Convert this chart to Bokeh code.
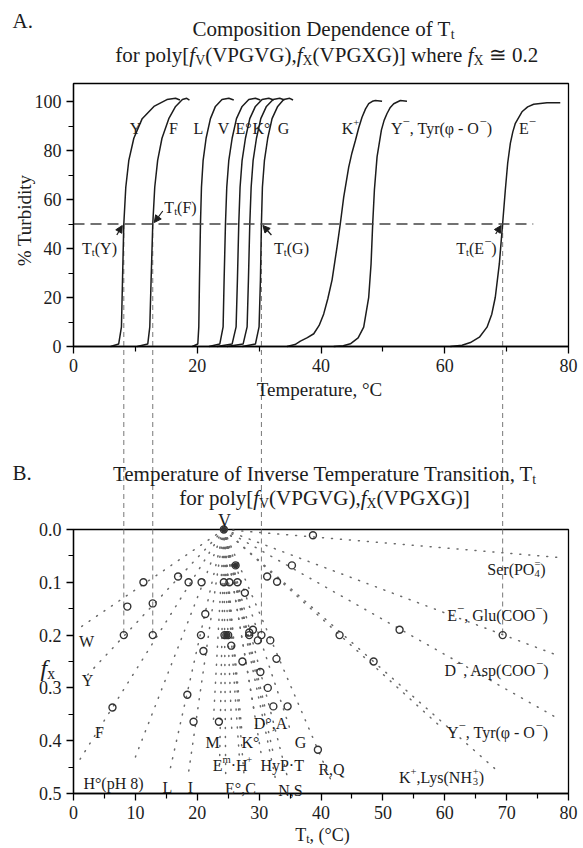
import math
from bokeh.plotting import figure
from bokeh.models import (Range1d, FixedTicker, Label, Arrow, NormalHead, PrintfTickFormatter,
                          LinearAxis)
from bokeh.embed import file_html
from bokeh.resources import INLINE

FONT = "Liberation Serif"
INK = "#1c1c1c"

# ---------------- Panel A data (turbidity profiles) ----------------
turb_steep = [0, 1, 8, 27, 50, 65, 76, 85, 93, 98, 100.8, 101.3, 100.6]
Y_T = [6.0, 7.3, 7.75, 7.92, 8.13, 8.45, 8.94, 9.75, 11.1, 13.0, 15.1, 16.5, 17.2]
F_T = [10.3, 12.0, 12.33, 12.54, 12.81, 13.13, 13.6, 14.3, 15.4, 16.5, 17.6, 18.3, 18.74]
L_T = [19.2, 20.09, 20.25, 20.36, 20.52, 20.68, 20.95, 21.43, 22.13, 22.94, 24.0, 25.1, 25.9]
V_T = [21.9, 23.64, 24.18, 24.34, 24.56, 24.77, 25.1, 25.64, 26.34, 27.25, 28.33, 29.4, 30.2]
E0_T = [23.2, 25.63, 26.28, 26.49, 26.71, 26.92, 27.25, 27.79, 28.49, 29.4, 30.48, 31.56, 32.37]
K0_T = [24.8, 27.41, 28.06, 28.27, 28.49, 28.71, 29.03, 29.57, 30.27, 31.18, 32.26, 33.33, 34.1]
G_T = [27.3, 29.4, 29.99, 30.21, 30.37, 30.53, 30.86, 31.39, 32.09, 33.0, 33.97, 34.94, 35.48]
Kp_T = [34.5, 35.8, 36.67, 37.8, 38.83, 39.7, 40.44, 41.1, 41.79, 42.6, 43.13, 43.67, 44.48,
        45.0, 45.56, 46.1, 46.63, 47.2, 47.71, 48.3, 48.79, 49.87]
Kp_turb = [0, 0.8, 2.2, 3.6, 5.2, 8.6, 13.3, 19.5, 27.2, 40.8, 50.3, 61, 73.2,
           79.0, 84.1, 89.3, 93.6, 97.0, 99.1, 100.1, 100.4, 100.1]
Ym_T = [42.06, 43.6, 44.75, 46.0, 46.9, 47.71, 48.09, 48.36, 48.63, 49.06, 49.76, 50.2,
        50.67, 51.2, 51.75, 52.83, 53.9]
Ym_turb = [0, 0.3, 1.1, 3.5, 7.9, 20.1, 33.7, 50.3, 63.9, 77.4, 88.3, 92.3,
           95.1, 97.6, 99.1, 100.4, 100.1]
Em_T = [60.9, 62.8, 64.14, 65.6, 66.83, 67.6, 68.17, 68.82, 69.36, 69.79, 70.17, 70.6,
        71.0, 71.41, 72.48, 73.4, 74.37, 76.52, 78.67]
Em_turb = [0, 0.5, 1.6, 3.8, 7.9, 13.2, 20.1, 33.7, 50.3, 63.9, 74.8, 82.9,
           87.6, 91.1, 95.8, 97.8, 98.9, 99.5, 99.5]
half_T = [0, 74.3]
half_level = 50
conn_T = [8.13, 12.81, 30.37, 69.36]   # Tt(Y), Tt(F), Tt(G), Tt(E-)

# ---------------- Panel B data ----------------
V_T0 = 24.3
fan_end_T = [0.5, 1.5, 0.8, 9.7, 15.6, 18.6, 22.6, 23.6, 24.6, 25.6, 26.8, 27.6, 27.2,
             29.3, 31.0, 30.4, 32.4, 35.2, 32.6, 34.6, 41.8, 59.0, 68.5, 78.6, 78.6, 78.6]
fan_end_fx = [0.19, 0.285, 0.44, 0.44, 0.455, 0.46, 0.365, 0.45, 0.47, 0.385, 0.43, 0.47, 0.38,
              0.35, 0.34, 0.43, 0.43, 0.385, 0.47, 0.47, 0.48, 0.37, 0.457, 0.36, 0.24, 0.053]
circ_T = [38.7, 35.3, 26.2, 16.9, 18.6, 20.7, 24.3, 25.2, 26.5, 11.3, 31.3, 32.9, 27.7, 8.7,
          12.8, 21.3, 8.13, 12.81, 20.6, 24.4, 24.7, 25.0, 28.4, 29.0, 28.4, 30.37, 29.8, 31.8,
          25.5, 21.0, 27.3, 32.8, 30.2, 31.4, 18.4, 6.3, 19.4, 23.5, 32.3, 34.6, 39.5, 43.0,
          48.5, 52.7, 69.36, 24.3]
circ_fx = [0.011, 0.068, 0.068, 0.089, 0.1, 0.1, 0.1, 0.1, 0.1, 0.1, 0.089, 0.099, 0.12, 0.146,
           0.14, 0.16, 0.2, 0.2, 0.2, 0.2, 0.2, 0.2, 0.195, 0.19, 0.2, 0.2, 0.21, 0.21,
           0.22, 0.23, 0.25, 0.245, 0.27, 0.3, 0.313, 0.337, 0.364, 0.364, 0.335, 0.335, 0.417, 0.2,
           0.25, 0.19, 0.2, 0.0]
dark_T = [24.3, 26.2, 24.7]
dark_fx = [0.0, 0.068, 0.2]

# ---------------- page geometry (page pixels; canvas at page origin) ----------------
W, H = 583, 848
FX0, FX1 = 73, 568                    # x = 0 .. 80 in both panels
A_TOP, A_BOT, A_YMAX = 83, 346, 107.35
B_TOP, B_BOT = 529, 793


def px2x(px):
    return (px - FX0) * 80.0 / (FX1 - FX0)


def x2px(x):
    return FX0 + x * (FX1 - FX0) / 80.0


def py2a(py):
    return (A_BOT - py) * A_YMAX / (A_BOT - A_TOP)


def a2py(y):
    return A_BOT - y * (A_BOT - A_TOP) / A_YMAX


def py2b(py):
    return (py - B_TOP) * 0.5 / (B_BOT - B_TOP)


TIMES = {' ': 250, ',': 250, '.': 250, '(': 333, ')': 333, '[': 333, ']': 333, '-': 333,
         '%': 833, '°': 400, '·': 250, '≅': 549, 'φ': 521, '−': 564, '+': 564, '=': 564}
for ch, w in zip("ABCDEFGHIJKLMNOPQRSTUVWXYZ",
                 [722, 667, 667, 722, 611, 556, 722, 722, 333, 389, 722, 611, 889, 722, 722, 556,
                  722, 667, 556, 611, 722, 722, 944, 722, 722, 611]):
    TIMES[ch] = w
for ch, w in zip("abcdefghijklmnopqrstuvwxyz",
                 [444, 500, 444, 500, 444, 333, 500, 500, 278, 278, 500, 278, 778, 500, 500, 500,
                  500, 333, 389, 278, 500, 500, 722, 500, 500, 444]):
    TIMES[ch] = w
for ch in "0123456789":
    TIMES[ch] = 500

p = figure(width=W, height=H, output_backend="svg", toolbar_location=None, title=None,
           x_range=Range1d(px2x(0), px2x(W)),
           y_range=Range1d(py2a(H), py2a(0)),
           x_axis_type=None, y_axis_type=None,
           min_border=0, min_border_left=0, min_border_right=0,
           min_border_top=0, min_border_bottom=0)
p.extra_y_ranges = {"fx": Range1d(py2b(H), py2b(0)),
                    "py": Range1d(H, 0)}
p.extra_x_ranges = {"px": Range1d(0, W)}
p.outline_line_color = None
p.grid.visible = False
p.background_fill_color = "white"
p.border_fill_color = "white"


def rich(cx, cy, segs, size, align="center", color=INK):
    items = []
    adv = 0.0
    last = 0.0
    for text, kind in segs:
        stacked = kind.endswith("*")
        k = kind.rstrip("*")
        s = size * 0.66 if k in ("sub", "sup") else size
        if k == "sup" and text == "−":
            s = size * 0.8
        italic = (k == "it")
        start = last if stacked else adv
        lead = len(text) - len(text.lstrip(" "))
        start += lead * 0.25 * s
        text = text.lstrip(" ")
        w = sum((278 if (italic and c == 'f') else TIMES.get(c, 500)) for c in text) / 1000.0 * s
        dy = 0.22 * size if k == "sub" else (-0.40 * size if k == "sup" else 0.0)
        items.append((text, start, dy, s, italic))
        adv = max(adv, start + w)
        last = start
    if align == "center":
        x0 = cx - adv / 2
    elif align == "left":
        x0 = cx
    else:
        x0 = cx - adv
    base = cy + 0.33 * size
    for text, start, dy, s, italic in items:
        if not text.strip():
            continue
        p.add_layout(Label(x=x0 + start, y=base + dy, text=text,
                           x_range_name="px", y_range_name="py",
                           text_font=FONT, text_font_size=f"{s:.1f}px",
                           text_font_style="italic" if italic else "normal",
                           text_align="left", text_baseline="alphabetic",
                           text_color=color))


def make_axis(dim, ticks, minor, bounds, fixed, y_range_name="default", fmt=None):
    ax = LinearAxis(ticker=FixedTicker(ticks=ticks, minor_ticks=minor), bounds=bounds,
                    fixed_location=fixed, y_range_name=y_range_name)
    ax.axis_line_width = 1.3
    ax.axis_line_color = "black"
    ax.major_tick_line_width = 1.3
    ax.minor_tick_line_width = 1.2
    ax.major_tick_in = 0
    ax.major_tick_out = 7
    ax.minor_tick_in = 0
    ax.minor_tick_out = 5
    ax.major_label_text_font = FONT
    ax.major_label_text_font_size = "18px"
    ax.major_label_text_color = INK
    if fmt:
        ax.formatter = PrintfTickFormatter(format=fmt)
    p.add_layout(ax, "below" if dim == "x" else "left")
    return ax


# panel frames
p.quad(left=[0], right=[80], bottom=[0], top=[A_YMAX], fill_color=None,
       line_color="black", line_width=1.3)
p.quad(left=[0], right=[80], bottom=[0.5], top=[0.0], fill_color=None,
       line_color="black", line_width=1.3, y_range_name="fx")

# ====================== Panel A ======================
make_axis("x", [0, 20, 40, 60, 80], [10, 30, 50, 70], (0, 80), 0)
make_axis("y", [0, 20, 40, 60, 80, 100], [10, 30, 50, 70, 90], (0, A_YMAX), 0)

# connectors: from Tt at 50% down to the fx = 0.2 points of panel B
p.segment(x0=conn_T, y0=[half_level] * 4, x1=conn_T, y1=[py2a(B_TOP)] * 4,
          line_color="#777", line_width=1, line_dash="5 4")
p.segment(x0=conn_T, y0=[0.0] * 4, x1=conn_T, y1=[0.2] * 4, y_range_name="fx",
          line_color="#777", line_width=1, line_dash="5 4")

for tlist in (Y_T, F_T, L_T, V_T, E0_T, K0_T, G_T):
    p.line(tlist, turb_steep, line_color=INK, line_width=1.5)
p.line(Kp_T, Kp_turb, line_color=INK, line_width=1.5)
p.line(Ym_T, Ym_turb, line_color=INK, line_width=1.5)
p.line(Em_T, Em_turb, line_color=INK, line_width=1.5)
p.line(half_T, [half_level, half_level], line_color="#444", line_width=1.3, line_dash="11 6")

# T_t arrows
tail_off = [(-7, 11), (10, -13), (10, 11), (-7, 10)]
for t, (ox, oy) in zip(conn_T, tail_off):
    hx, hy = x2px(t), a2py(half_level)
    sx = 1.5 if ox > 0 else -1.5
    sy = 1.5 if oy > 0 else -1.5
    p.add_layout(Arrow(end=NormalHead(size=7, fill_color=INK, line_color=INK, line_width=1),
                       x_start=hx + ox, y_start=hy + oy, x_end=hx + sx, y_end=hy + sy,
                       x_range_name="px", y_range_name="py",
                       line_color=INK, line_width=1.2))

# titles and labels, panel A
rich(12, 14, [("A.", "n")], 21, align="left")
rich(323, 22, [("Composition Dependence of T", "n"), ("t", "sub")], 21)
rich(323, 48, [("for poly[", "n"), ("f", "it"), ("V", "sub"), ("(VPGVG),", "n"),
               ("f", "it"), ("X", "sub"), ("(VPGXG)] where ", "n"), ("f", "it"),
               ("X", "sub"), (" ≅ 0.2", "n")], 21)
p.add_layout(Label(x=24, y=220, text="% Turbidity", angle=math.pi / 2,
                   x_range_name="px", y_range_name="py", text_font=FONT,
                   text_font_size="19px", text_align="center", text_baseline="middle",
                   text_color=INK))
rich(322, 383, [("Temperature,  °C", "n")], 19)

LY = 123
for txt, cx in [("Y", 135), ("F", 173), ("L", 198), ("V", 223), ("G", 283)]:
    rich(cx, LY, [(txt, "n")], 16)
rich(243, LY, [("E°", "n")], 16)
rich(261, LY, [("K°", "n")], 16)
rich(350, LY, [("K", "n"), ("+", "sup")], 16)
rich(441, LY, [("Y", "n"), ("−", "sup"), (", Tyr(φ - O", "n"), ("−", "sup"), (")", "n")], 16)
rich(527, LY, [("E", "n"), ("−", "sup")], 16)

rich(99, 243, [("T", "n"), ("t", "sub"), ("(Y)", "n")], 16)
rich(180, 202, [("T", "n"), ("t", "sub"), ("(F)", "n")], 16)
rich(291, 243, [("T", "n"), ("t", "sub"), ("(G)", "n")], 16)
rich(476, 243, [("T", "n"), ("t", "sub"), ("(E", "n"), ("−", "sup"), (")", "n")], 16)

# ====================== Panel B ======================
make_axis("x", [0, 10, 20, 30, 40, 50, 60, 70, 80], [5, 15, 25, 35, 45, 55, 65, 75],
          (0, 80), 0.5, y_range_name="fx")
make_axis("y", [0.0, 0.1, 0.2, 0.3, 0.4, 0.5], [0.05, 0.15, 0.25, 0.35, 0.45],
          (0, 0.5), 0, y_range_name="fx", fmt="%.1f")

fan_xs = [[V_T0, t] for t in fan_end_T]
fan_ys = [[0.0, f] for f in fan_end_fx]
p.multi_line(fan_xs, fan_ys, line_color="#6a6a6a", line_width=1.5, line_dash="1 8",
             line_cap="round", y_range_name="fx")

p.scatter(circ_T, circ_fx, size=7, marker="circle", fill_color=None, line_color="#333",
          line_width=1.4, y_range_name="fx")
p.scatter(dark_T, dark_fx, size=5, marker="circle", fill_color="#333", line_color="#333",
          y_range_name="fx")

rich(12, 466, [("B.", "n")], 21, align="left")
rich(324, 467, [("Temperature of Inverse Temperature Transition,", "n"), ("T", "n"),
                ("t", "sub")], 21)
rich(324, 491, [("for poly[", "n"), ("f", "it"), ("V", "sub"), ("(VPGVG),", "n"),
                ("f", "it"), ("X", "sub"), ("(VPGXG)]", "n")], 21)
rich(224, 515, [("V", "n")], 18)
rich(40, 660, [("f", "it"), ("x", "sub")], 24, align="left")
rich(322, 829, [("T", "n"), ("t", "sub"), (", (°C)", "n")], 18)

S = 16
rich(86, 636, [("W", "n")], S)
rich(87, 675, [("Y", "n")], S)
rich(99, 727, [("F", "n")], S)
rich(113, 778, [("H°(pH 8)", "n")], S)
rich(167, 782, [("L", "n")], S)
rich(190, 782, [("I", "n")], S)
rich(212, 737, [("M", "n")], S)
rich(250, 737, [("K°", "n")], S)
rich(300, 737, [("G", "n")], S)
rich(270, 718, [("D°,A", "n")], S)
rich(232, 760, [("E", "n"), ("m", "sup"), ("·H", "n"), ("+", "sup")], S)
rich(281, 760, [("HyP·T", "n")], S)
rich(331, 764, [("R,Q", "n")], S)
rich(240, 783, [("E°,C", "n")], S)
rich(290, 785, [("N,S", "n")], S)
rich(441, 772, [("K", "n"), ("+", "sup"), (",Lys(NH", "n"), ("3", "sub"), ("+", "sup*"), (")", "n")], S)
rich(497, 727, [("Y", "n"), ("−", "sup"), (", Tyr(φ - O", "n"), ("−", "sup"), (")", "n")], S)
rich(496, 665, [("D", "n"), ("−", "sup"), (", Asp(COO", "n"), ("−", "sup"), (")", "n")], S)
rich(497, 610, [("E", "n"), ("−", "sup"), (", Glu(COO", "n"), ("−", "sup"), (")", "n")], S)
rich(516, 564, [("Ser(PO", "n"), ("4", "sub"), ("=", "sup*"), (")", "n")], S)

open("out.html", "w").write(file_html(p, INLINE))
